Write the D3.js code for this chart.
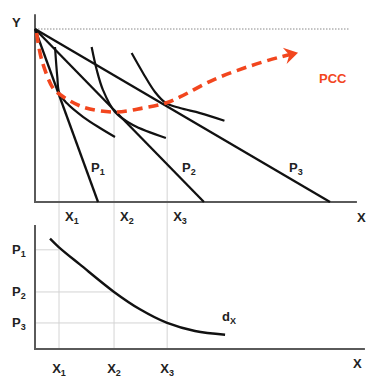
<!DOCTYPE html>
<html lang="en">
<head>
    <meta charset="UTF-8">
    <title>PCC and demand</title>
    <script src="https://d3js.org/d3.v7.min.js"></script>
    <style>
        body { margin: 0; background: #fff; }
        text { font-family: "Liberation Sans", Arial, sans-serif; font-weight: bold; fill: #222; }
    </style>
</head>
<body>
<div id="chart"></div>
<script>
    // ---- data ----
    var income = 100;
    var budgetIntercepts = [19.7, 52.8, 92.2];          // X intercepts of budget lines P1, P2, P3
    var budgetLabels = ["P1", "P2", "P3"];
    var tangencyX = [7.5, 24.7, 41.3];                   // X1, X2, X3
    var tangencyLabels = ["X1", "X2", "X3"];
    var ic1 = [[6.25, 89.6], [6.97, 72.3], [7.59, 63.0], [9.91, 57.2], [15.1, 49.1], [20.3, 42.8], [25.0, 37.6]];
    var ic2 = [[17.7, 89.6], [19.3, 76.3], [21.25, 64.7], [25.0, 52.0], [30.6, 44.5], [40.9, 37.0]];
    var ic3 = [[30.2, 86.1], [33.75, 74.6], [37.5, 63.6], [40.9, 57.2], [45.3, 54.3], [51.6, 51.4], [59.2, 47.0]];
    var pcc = [[0.5, 97.7], [2.1, 82.1], [5.6, 65.9], [7.6, 62.4], [15.0, 54.9], [25.0, 52.0], [33.75, 54.3],
        [40.9, 57.2], [45.3, 60.7], [55.6, 70.5], [66.25, 78.0], [76.6, 83.8], [82.2, 86.2]];
    var prices = [8.0, 4.6, 2.1];                        // P1, P2, P3
    var priceLabels = ["P1", "P2", "P3"];
    var demand = [[4.7, 8.9], [7.5, 8.2], [14.1, 6.8], [24.7, 4.6], [32.8, 3.2], [41.3, 2.1], [50, 1.45], [59.4, 1.15]];

    var red = "#f2461e";
    var svg = d3.select("#chart").append("svg")
        .attr("width", 374)
        .attr("height", 383);

    // scales
    var x = d3.scaleLinear().domain([0, 100]).range([35, 355]);
    var yTop = d3.scaleLinear().domain([0, 100]).range([202, 29]);
    var yBot = d3.scaleLinear().domain([0, 10]).range([349, 225]);

    // gridlines
    tangencyX.forEach(function (tx, i) {
        var by = income * (1 - tx / budgetIntercepts[i]);
        svg.append("line")
            .attr("x1", x(tx)).attr("x2", x(tx))
            .attr("y1", yTop(by)).attr("y2", yBot(0))
            .attr("stroke", "#d4d4d4").attr("stroke-width", 1);
        svg.append("line")
            .attr("x1", x(0)).attr("x2", x(tx))
            .attr("y1", yBot(prices[i])).attr("y2", yBot(prices[i]))
            .attr("stroke", "#d4d4d4").attr("stroke-width", 1);
    });

    // income dotted line
    svg.append("line")
        .attr("x1", x(0)).attr("x2", x(98))
        .attr("y1", yTop(income)).attr("y2", yTop(income))
        .attr("stroke", "#888").attr("stroke-width", 1)
        .attr("stroke-dasharray", "1.5,1.5");

    // axes
    var axisColor = "#5a5a5a";
    svg.append("path")
        .attr("d", "M" + x(0) + "," + yTop(108.5) + "V" + yTop(0) + "H" + x(100.6))
        .attr("fill", "none").attr("stroke", axisColor).attr("stroke-width", 2);
    svg.append("path")
        .attr("d", "M" + x(0) + "," + yBot(10) + "V" + yBot(0) + "H" + x(103.1))
        .attr("fill", "none").attr("stroke", axisColor).attr("stroke-width", 2);

    // budget lines
    budgetIntercepts.forEach(function (b) {
        svg.append("line")
            .attr("x1", x(0)).attr("y1", yTop(income))
            .attr("x2", x(b)).attr("y2", yTop(0))
            .attr("stroke", "#111").attr("stroke-width", 2.3);
    });

    // indifference curves
    var curve = d3.line()
        .x(function (d) { return x(d[0]); })
        .y(function (d) { return yTop(d[1]); })
        .curve(d3.curveCatmullRom.alpha(0.5));
    [ic1, ic2, ic3].forEach(function (ic) {
        svg.append("path")
            .attr("d", curve(ic))
            .attr("fill", "none").attr("stroke", "#111").attr("stroke-width", 2.2);
    });

    // PCC
    svg.append("path")
        .attr("d", curve(pcc))
        .attr("fill", "none").attr("stroke", red).attr("stroke-width", 3.6)
        .attr("stroke-dasharray", "10,6");
    var tip = pcc[pcc.length - 1], prev = pcc[pcc.length - 2];
    var tx0 = x(tip[0]), ty0 = yTop(tip[1]);
    var ang = Math.atan2(ty0 - yTop(prev[1]), tx0 - x(prev[0]));
    function pt(len, a) {
        return [tx0 + len * Math.cos(ang + a), ty0 + len * Math.sin(ang + a)];
    }
    var w1 = pt(-16, -0.55), w2 = pt(-16, 0.55), notch = pt(-9, 0);
    svg.append("path")
        .attr("d", "M" + w1 + "L" + tx0 + "," + ty0 + "L" + w2 + "L" + notch + "Z")
        .attr("fill", red);
    svg.append("text")
        .attr("x", 319).attr("y", 83)
        .attr("font-size", 13)
        .style("fill", red)
        .text("PCC");

    // demand curve
    var dLine = d3.line()
        .x(function (d) { return x(d[0]); })
        .y(function (d) { return yBot(d[1]); })
        .curve(d3.curveCatmullRom.alpha(0.5));
    svg.append("path")
        .attr("d", dLine(demand))
        .attr("fill", "none").attr("stroke", "#111").attr("stroke-width", 2.4);

    // label helper with subscript
    function sub(xp, yp, main, s, anchor) {
        var t = svg.append("text")
            .attr("x", xp).attr("y", yp)
            .attr("font-size", 13)
            .attr("text-anchor", anchor || "start");
        t.append("tspan").text(main);
        t.append("tspan").attr("font-size", 9).attr("dy", 3).text(s);
        return t;
    }

    svg.append("text").attr("x", 12).attr("y", 27).attr("font-size", 13).text("Y");
    svg.append("text").attr("x", 357).attr("y", 222).attr("font-size", 13).text("X");
    svg.append("text").attr("x", 353).attr("y", 368).attr("font-size", 13).text("X");

    var budgetLabelX = [91, 182, 289];
    budgetLabels.forEach(function (l, i) {
        sub(budgetLabelX[i], 172, l[0], l[1]);
    });
    tangencyLabels.forEach(function (l, i) {
        sub(x(tangencyX[i]) + 6, 221, l[0], l[1]);
        sub(x(tangencyX[i]), 373, l[0], l[1], "middle");
    });
    priceLabels.forEach(function (l, i) {
        sub(12, yBot(prices[i]) + 4, l[0], l[1]);
    });
    sub(222, 321, "d", "X");
</script>
</body>
</html>
